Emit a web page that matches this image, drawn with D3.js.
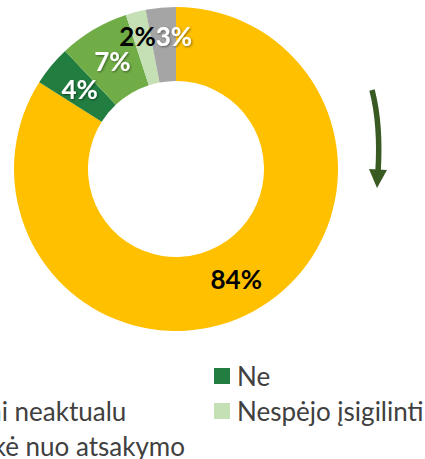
<!DOCTYPE html>
<html>
<head>
<meta charset="utf-8">
<script src="https://cdn.jsdelivr.net/npm/d3@7"></script>
<style>
  body { margin: 0; background: #fff; }
  svg { display: block; }
</style>
</head>
<body>
<div id="chart"></div>
<script>
// Survey answers (clockwise from 12 o'clock)
const categories = ["Taip", "Ne", "Man tai neaktualu", "Nespėjo įsigilinti", "Susilaikė nuo atsakymo"];
const values = [84, 4, 7, 2, 3];
const colors = ["#FFC000", "#217D40", "#70AD47", "#C5E0B4", "#A5A5A5"];
const labelColors = ["#000", "#fff", "#fff", "#000", "#fff"];

const width = 425, height = 459;
const cx = 176, cy = 169;
const outerR = 162, innerR = 88;
const font = "Lato, 'Noto Sans', sans-serif";

const svg = d3.select("#chart").append("svg")
    .attr("width", width)
    .attr("height", height);

const defs = svg.append("defs");
const shadow = defs.append("filter").attr("id", "shadow")
    .attr("x", "-20%").attr("y", "-20%").attr("width", "140%").attr("height", "140%");
shadow.append("feDropShadow")
    .attr("dx", 1).attr("dy", 1).attr("stdDeviation", 1)
    .attr("flood-color", "#000").attr("flood-opacity", 0.45);

const data = categories.map((c, i) => ({ cat: c, value: values[i], color: colors[i], lab: labelColors[i] }));

const pie = d3.pie().value(d => d.value).sort(null);
const arcs = pie(data);

const arc = d3.arc().innerRadius(innerR).outerRadius(outerR);

const g = svg.append("g").attr("transform", `translate(${cx},${cy})`);

g.selectAll("path.slice")
    .data(arcs)
    .enter()
    .append("path")
    .attr("class", "slice")
    .attr("d", arc)
    .attr("fill", d => d.data.color);

// the two thin slices share one spot just outside the ring middle,
// their labels sit either side of the boundary between them
const small = arcs.filter(d => d.data.value <= 3);
const edgeA = small[0].endAngle;
const edgeR = 135;
const edge = [edgeR * Math.sin(edgeA), -edgeR * Math.cos(edgeA)];

g.selectAll("text.lbl")
    .data(arcs)
    .enter()
    .append("text")
    .attr("class", "lbl")
    .attr("transform", d => {
        if (d.data.value <= 3) return `translate(${edge[0] + 5},${edge[1]})`;
        const p = arc.centroid(d);
        return `translate(${p[0]},${p[1]})`;
    })
    .attr("text-anchor", d => {
        if (d.data.value > 3) return "middle";
        return d === small[0] ? "end" : "start";
    })
    .attr("dominant-baseline", "central")
    .attr("font-family", font)
    .attr("font-weight", "bold")
    .attr("font-size", "26px")
    .attr("fill", d => d.data.lab)
    .attr("filter", d => d.data.lab === "#fff" ? "url(#shadow)" : null)
    .text(d => d.data.value + "%");

// rotation arrow
svg.append("path")
    .attr("d", "M372,90 Q381,125 378,172")
    .attr("fill", "none")
    .attr("stroke", "#3A5A24")
    .attr("stroke-width", 5.5);
svg.append("path")
    .attr("d", "M369,169 L387,170 L377,188 Z")
    .attr("fill", "#3A5A24");

// Legend: two columns, left column runs off the left edge
const legend = svg.append("g").attr("class", "legend");
const rowY = [376, 411, 446];
const legendFont = "26px";

// measure the longest left-column label so its right end sits where it should
const probe = legend.append("text")
    .attr("font-family", font).attr("font-size", legendFont)
    .text(categories[4]);
const longW = probe.node().getComputedTextLength();
probe.remove();
const leftX = 185 - longW;
const colX = [leftX, 237];

const items = data.map((d, i) => ({ ...d, col: i % 2, row: Math.floor(i / 2) }));

legend.selectAll("rect")
    .data(items)
    .enter()
    .append("rect")
    .attr("x", d => colX[d.col] - 23)
    .attr("y", d => rowY[d.row] - 8)
    .attr("width", 16)
    .attr("height", 16)
    .attr("fill", d => d.color);

legend.selectAll("text")
    .data(items)
    .enter()
    .append("text")
    .attr("x", d => colX[d.col])
    .attr("y", d => rowY[d.row])
    .attr("dominant-baseline", "central")
    .attr("font-family", font)
    .attr("font-size", legendFont)
    .attr("fill", "#404040")
    .text(d => d.cat);
</script>
</body>
</html>
